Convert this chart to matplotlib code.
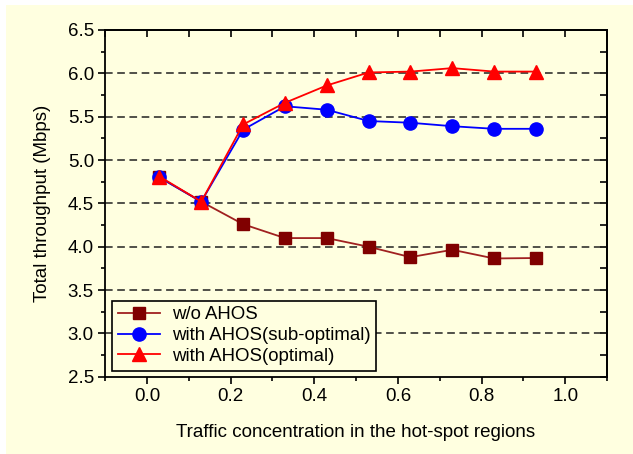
import matplotlib.pyplot as plt
import matplotlib.patches as mpatches
from matplotlib.ticker import MultipleLocator

plt.rcParams['font.family'] = ['Liberation Sans', 'DejaVu Sans']

# traffic concentration (x) and throughput (Mbps) per scheme
x = [0.03, 0.13, 0.23, 0.33, 0.43, 0.53, 0.63, 0.73, 0.83, 0.93]
wo_ahos = [4.80, 4.52, 4.26, 4.10, 4.10, 4.00, 3.88, 3.965, 3.865, 3.87]
sub_optimal = [4.80, 4.52, 5.35, 5.62, 5.58, 5.45, 5.43, 5.39, 5.36, 5.36]
optimal = [4.81, 4.52, 5.41, 5.66, 5.86, 6.01, 6.02, 6.06, 6.02, 6.02]

bg = '#FFFFE0'

fig = plt.figure(figsize=(6.33, 4.54), dpi=100)
fig.patch.set_facecolor('white')
fig.patches.append(mpatches.Rectangle((6 / 633, 0), 1, 1 - 5 / 454, transform=fig.transFigure,
                                      facecolor=bg, edgecolor='none', zorder=-10))

ax = fig.add_axes([0.166, 0.170, 0.793, 0.764])
ax.set_facecolor(bg)

for y in [3.0, 3.5, 4.0, 4.5, 5.0, 5.5, 6.0]:
    ax.axhline(y, color='#202020', linestyle=(0, (5, 3)), linewidth=1.1, zorder=1)

ax.plot(x, wo_ahos, color='#A02020', linewidth=1.3, marker='s', markersize=8.5,
        markerfacecolor='#800000', markeredgecolor='#800000', label='w/o AHOS', zorder=3)
ax.plot(x, sub_optimal, color='#0000FF', linewidth=1.3, marker='o', markersize=9.5,
        markerfacecolor='#0000FF', markeredgecolor='#0000FF', label='with AHOS(sub-optimal)', zorder=4)
ax.plot(x, optimal, color='#FF0000', linewidth=1.3, marker='^', markersize=10.5,
        markerfacecolor='#FF0000', markeredgecolor='#FF0000', label='with AHOS(optimal)', zorder=5)

ax.set_xlim(-0.1, 1.1)
ax.set_ylim(2.5, 6.5)
ax.xaxis.set_major_locator(MultipleLocator(0.2))
ax.xaxis.set_minor_locator(MultipleLocator(0.1))
ax.yaxis.set_major_locator(MultipleLocator(0.5))
ax.yaxis.set_minor_locator(MultipleLocator(0.25))
ax.set_xticks([0.0, 0.2, 0.4, 0.6, 0.8, 1.0])
ax.set_xticklabels(['0.0', '0.2', '0.4', '0.6', '0.8', '1.0'])
ax.tick_params(which='major', direction='out', length=5, width=1.2, labelsize=13.5, pad=3)
ax.tick_params(which='minor', direction='out', length=3, width=1.2)

top = ax.secondary_xaxis('top')
top.xaxis.set_major_locator(MultipleLocator(0.1))
top.tick_params(direction='in', length=5, width=1.2, labeltop=False)
right = ax.secondary_yaxis('right')
right.yaxis.set_major_locator(MultipleLocator(0.25))
right.tick_params(direction='in', length=5, width=1.2, labelright=False)

for s in list(ax.spines.values()) + [top.spines['top'], right.spines['right']]:
    s.set_linewidth(1.3)

ax.set_xlabel('Traffic concentration in the hot-spot regions', fontsize=13.5, labelpad=14)
ax.set_ylabel('Total throughput (Mbps)', fontsize=13.5, labelpad=12)

leg = ax.legend(loc='upper left', bbox_to_anchor=(0.014, 0.219), fontsize=13.4, frameon=True,
                fancybox=False, edgecolor='black', facecolor=bg, framealpha=1,
                handlelength=2.3, borderpad=0.3, labelspacing=0.2, handletextpad=0.6,
                borderaxespad=0)
leg.get_frame().set_linewidth(1.2)

fig.savefig('out.png', dpi=100, facecolor=fig.get_facecolor())
